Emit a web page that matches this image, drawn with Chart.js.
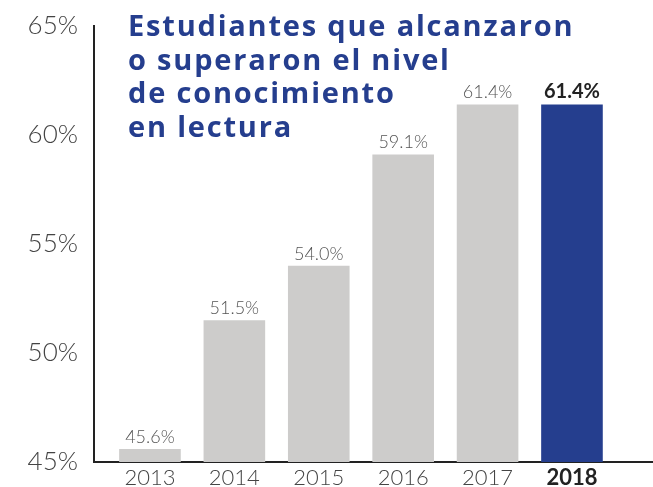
<!DOCTYPE html>
<html>
<head>
<meta charset="utf-8">
<script src="https://cdn.jsdelivr.net/npm/chart.js@4"></script>
<style>
  html, body { margin: 0; padding: 0; background: #fff; }
  #wrap { position: relative; width: 653px; height: 487px; }
  canvas { display: block; }
  #title {
    position: absolute; left: 128px; top: 8px;
    font-family: "Open Sans", sans-serif; font-weight: 700;
    font-size: 29px; line-height: 33.5px; color: #253e8e;
    letter-spacing: 1.8px;
  }
</style>
</head>
<body>
<div id="wrap">
  <canvas id="chart" width="653" height="487"></canvas>
  <div id="title">Estudiantes que alcanzaron<br>o superaron el nivel<br>de conocimiento<br>en lectura</div>
</div>
<script>
const years = [2013, 2014, 2015, 2016, 2017, 2018];
const values = [45.6, 51.5, 54.0, 59.1, 61.4, 61.4];
const yTicks = [45, 50, 55, 60, 65];
const barColors = ['#cdcccb', '#cdcccb', '#cdcccb', '#cdcccb', '#cdcccb', '#253e8e'];

// etiquetas sobre cada barra
const valueLabels = {
  id: 'valueLabels',
  afterDatasetsDraw(chart) {
    const ctx = chart.ctx;
    const meta = chart.getDatasetMeta(0);
    ctx.save();
    ctx.textAlign = 'center';
    ctx.textBaseline = 'bottom';
    meta.data.forEach(function(bar, i) {
      const last = i === values.length - 1;
      ctx.font = last ? '700 20px Lato, "Open Sans", sans-serif' : '300 18px Lato, "Open Sans", sans-serif';
      ctx.fillStyle = last ? '#222' : '#555';
      ctx.fillText(values[i].toFixed(1) + '%', bar.x, bar.y - 3);
    });
    ctx.restore();
  }
};

new Chart(document.getElementById('chart').getContext('2d'), {
  type: 'bar',
  data: {
    datasets: [{
      data: years.map((y, i) => ({ x: y, y: values[i] })),
      backgroundColor: barColors,
      categoryPercentage: 1,
      barPercentage: 0.73
    }]
  },
  options: {
    responsive: false,
    animation: false,
    layout: { padding: { top: 26, right: 0, left: 0, bottom: 0 } },
    plugins: { legend: { display: false }, tooltip: { enabled: false } },
    scales: {
      x: {
        type: 'linear',
        offset: false,
        min: 2012.337,
        max: 2018.96,
        grid: { display: false, drawTicks: false },
        border: { display: true, color: '#222', width: 2 },
        afterBuildTicks: axis => { axis.ticks = years.map(v => ({ value: v })); },
        afterFit: axis => { axis.height = 25; axis.paddingLeft = 0; axis.paddingRight = 0; },
        ticks: {
          padding: 3,
          color: ctx => ctx.index === years.length - 1 ? '#222' : '#444',
          font: ctx => ({
            family: 'Lato, "Open Sans", sans-serif',
            size: 22,
            weight: ctx.index === years.length - 1 ? 700 : 300
          }),
          callback: v => String(v)
        }
      },
      y: {
        min: 45,
        max: 65,
        grid: { display: false, drawTicks: false },
        border: { display: true, color: '#222', width: 2 },
        afterBuildTicks: axis => { axis.ticks = yTicks.map(v => ({ value: v })); },
        afterFit: axis => { axis.width = 94; axis.paddingTop = 0; axis.paddingBottom = 0; },
        ticks: {
          padding: 16,
          color: '#444',
          font: { family: 'Lato, "Open Sans", sans-serif', size: 26, weight: 300 },
          callback: v => v + '%'
        }
      }
    }
  },
  plugins: [valueLabels]
});
</script>
</body>
</html>
